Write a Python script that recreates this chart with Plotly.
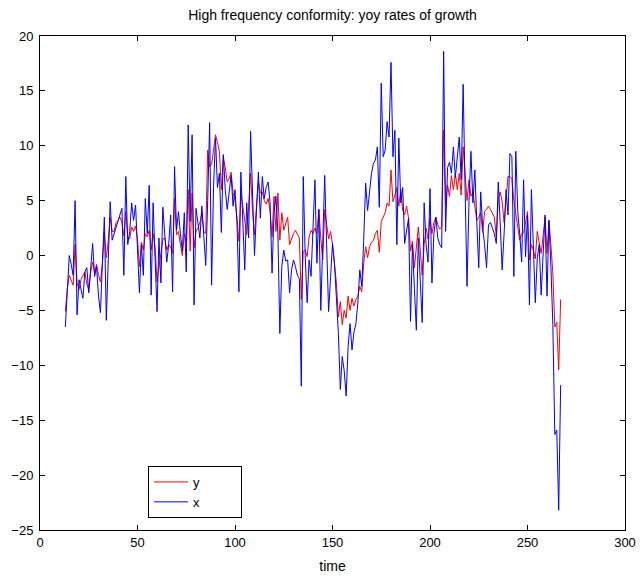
import plotly.graph_objects as go

# Time index of the two year-on-year growth series
time = list(range(13, 268))

# y: smoother series (red)
y_growth = [
    -5.1, -3.0, -1.8, -2.2, -2.7, 1.0, -2.5, -3.1, -2.2, -1.8,
    -1.5, -2.6, -3.1, -1.5, -0.6, -1.6, -0.8, -1.8, -2.4, -0.7,
    2.1, -0.2, 1.3, 3.5, 2.2, 2.2, 3.0, 3.2, 3.5, 3.0,
    1.8, 4.0, 1.7, 1.5, 2.6, 2.2, 2.7, 1.5, -1.0, 1.2,
    0.5, 2.0, 1.7, 2.3, 0.5, 2.0, 0.8, -2.4, -1.0, 0.0,
    1.5, 1.6, 0.5, 1.0, 0.8, 0.2, 5.2, 1.9, 2.2, 1.0,
    0.0, 2.0, 1.2, 6.0, 0.4, 5.7, 0.7, 2.2, 2.5, 3.0,
    3.9, 2.2, 2.0, 9.6, 8.1, 8.3, 9.8, 11.0, 10.3, 9.5,
    6.0, 9.0, 8.0, 6.7, 7.0, 7.6, 5.7, 5.0, 3.5, 1.3,
    5.8, 4.5, 3.0, 1.9, 4.5, 7.5, 4.0, 1.9, 4.5, 6.7,
    5.7, 5.8, 5.0, 4.7, 5.2, 4.0, 1.7, 5.4, 2.2, 5.7,
    1.4, 3.9, 2.3, 3.0, 3.5, 1.0, 1.6, 2.0, 2.3, 2.0,
    1.6, -4.0, 0.4, 0.5, -0.1, 1.7, 2.3, 2.0, 2.5, 2.0,
    4.2, 1.5, -0.4, 4.2, 3.0, 1.5, 2.2, 1.0, -0.7, -2.5,
    -5.6, -4.2, -6.3, -5.0, -5.7, -3.7, -5.0, -3.9, -4.6, -4.0,
    -3.7, -2.8, -3.3, -0.7, 0.8, -0.2, 0.8, 1.2, 1.4, 2.0,
    2.3, 0.3, 3.1, 3.5, 3.9, 4.8, 4.5, 7.8, 4.9, 5.5,
    6.2, 4.5, 6.0, 4.1, 3.7, 4.5, 3.4, 0.4, 1.3, -1.1,
    0.5, 2.6, 0.5, -1.8, 1.0, 2.5, 1.5, 3.4, 2.0, 3.0,
    3.5, 2.8, 2.4, 2.6, 11.4, 4.6, 6.4, 5.4, 7.3, 6.0,
    7.5, 6.0, 7.5, 5.5, 9.9, 7.0, 5.0, 6.9, 5.4, 5.8,
    4.2, 3.2, 3.5, 3.9, 2.1, 4.0, 4.2, 4.5, 4.2, 3.9,
    3.5, 1.7, 5.1, 5.8, 4.9, 3.0, 5.5, 7.2, 7.2, 7.0,
    5.0, 3.9, 2.5, 1.4, 2.0, 2.1, 3.0, 4.0, -0.4, 1.0,
    0.5, -0.3, 2.2, 1.0, 0.2, 1.8, 3.5, 0.2, 3.2, 1.0,
    -1.6, -6.5, -6.1, -10.4, -4.0,
]

# x: high frequency indicator (blue)
x_growth = [
    -6.5, -3.0, 0.0, -0.8, -1.8, 5.0, -5.4, -2.2, -3.0, -3.9,
    -1.5, -1.1, -3.4, -1.0, 1.1, -1.9, -1.0, -3.7, -5.2, -0.7,
    3.5, -5.9, -0.1, 4.9, 1.4, 2.0, 2.5, 3.0, 3.7, 4.3,
    -1.8, 7.2, 1.0, 2.2, 4.8, 3.2, 4.6, 1.0, -3.4, 1.0,
    -1.8, 5.2, 2.0, 6.4, -3.6, 4.8, 0.0, -5.1, 1.6, -2.5,
    4.4, 1.5, -0.6, 1.0, 3.7, -3.3, 8.1, 2.3, 4.0, 2.0,
    0.4, 3.9, -1.5, 11.9, 3.1, 11.0, -4.5, 4.3, 3.0, 1.6,
    4.5, 2.0, -0.9, 5.0, 12.1, -2.7, 6.3, 10.7, 6.2, 7.5,
    2.1, 9.2, 6.0, 4.2, 5.5, 7.3, 4.5, 6.0, 3.0, -3.3,
    7.6, 3.0, -1.3, 4.8, 1.6, 11.3, 5.0, 0.0, 4.0, 7.6,
    3.4, 7.2, 5.2, 6.2, 6.7, 4.8, -1.6, 3.9, 5.4, 2.0,
    -7.1, -1.0, 0.5, -0.5, -0.4, -3.4, -1.3, -0.4, -1.0, -1.8,
    -2.1, -11.9, 7.2, 0.0, -4.3, -0.4, -1.9, 2.0, 6.9, -0.7,
    4.2, -5.0, 1.0, 7.3, 1.0, -5.1, -2.0, 1.1, -0.7, -4.0,
    -7.0, -12.2, -9.2, -10.5, -12.8, -8.3, -6.2, -8.6, -7.0, -6.2,
    -4.3, -1.3, -2.8, 1.4, 6.6, 4.1, 6.2, 7.5, 8.4, 8.7,
    9.9, 4.4, 15.7, 9.0, 9.6, 12.2, 10.8, 17.6, 9.0, 11.4,
    1.0, 10.7, 4.8, 6.2, 1.1, 2.5, 3.4, -6.0, 1.0, -3.0,
    -6.8, 1.6, -2.1, -6.1, 4.8, 1.0, -0.6, 6.1, -2.5, 2.0,
    3.5, 1.6, 1.0, 0.7, 18.6, 2.2, 8.0, 8.5, 7.5, 9.9,
    7.1, 9.0, 10.8, 6.9, 15.6, 6.0, -2.8, 5.0, 9.5, 4.8,
    7.8, 3.0, -1.1, 5.8, 2.6, 1.0, -1.1, 2.8, 3.0, 2.5,
    2.0, 1.1, 6.7, 3.0, -1.3, 2.0, 6.0, 3.7, 9.3, 9.0,
    -1.9, 9.5, 4.0, 2.0, -0.6, 6.9, -0.1, 3.7, -4.5, 6.0,
    1.0, -4.3, -0.3, 1.0, -3.6, -0.1, 3.7, -3.7, 3.2, -1.0,
    -6.3, -16.3, -15.9, -23.2, -11.8,
]

series_names = ["y", "x"]
x_ticks = [0, 50, 100, 150, 200, 250, 300]
y_ticks = [-25, -20, -15, -10, -5, 0, 5, 10, 15, 20]

font = dict(family="Liberation Sans, Arial, sans-serif", size=13, color="black")
big_font = dict(family=font["family"], size=14, color="black")

# trailing non-breaking spaces widen the legend box
pad = "\u00a0" * 10

fig = go.Figure()
fig.add_trace(go.Scatter(x=time, y=y_growth, mode="lines",
                         name=series_names[0] + pad,
                         line=dict(color="#ff0000", width=1)))
fig.add_trace(go.Scatter(x=time, y=x_growth, mode="lines",
                         name=series_names[1] + pad,
                         line=dict(color="#0000ff", width=1)))

axis_common = dict(
    showline=True, linecolor="black", linewidth=1, mirror="ticks",
    ticks="inside", ticklen=5, tickcolor="black", tickwidth=1,
    showgrid=False, zeroline=False, tickfont=font, automargin=False,
)

fig.update_layout(
    width=640, height=583,
    margin=dict(l=40, r=15, t=36, b=53),
    paper_bgcolor="white", plot_bgcolor="white",
    font=font,
    title=dict(text="High frequency conformity: yoy rates of growth",
               x=(40 + 625) / 2 / 640, xanchor="center",
               y=1 - 15 / 583, yanchor="middle", font=big_font),
    xaxis=dict(range=[0, 300], tickvals=x_ticks,
               title=dict(text="time", font=big_font, standoff=12),
               **axis_common),
    yaxis=dict(range=[-25, 20], tickvals=y_ticks, ticklabelstandoff=3,
               **axis_common),
    showlegend=True,
    legend=dict(x=(148 - 40) / 585, y=(530 - 466) / 494,
                xanchor="left", yanchor="top",
                bgcolor="white", bordercolor="black", borderwidth=1,
                font=font, tracegroupgap=0, itemwidth=34),
)

fig.write_html("out.html")
